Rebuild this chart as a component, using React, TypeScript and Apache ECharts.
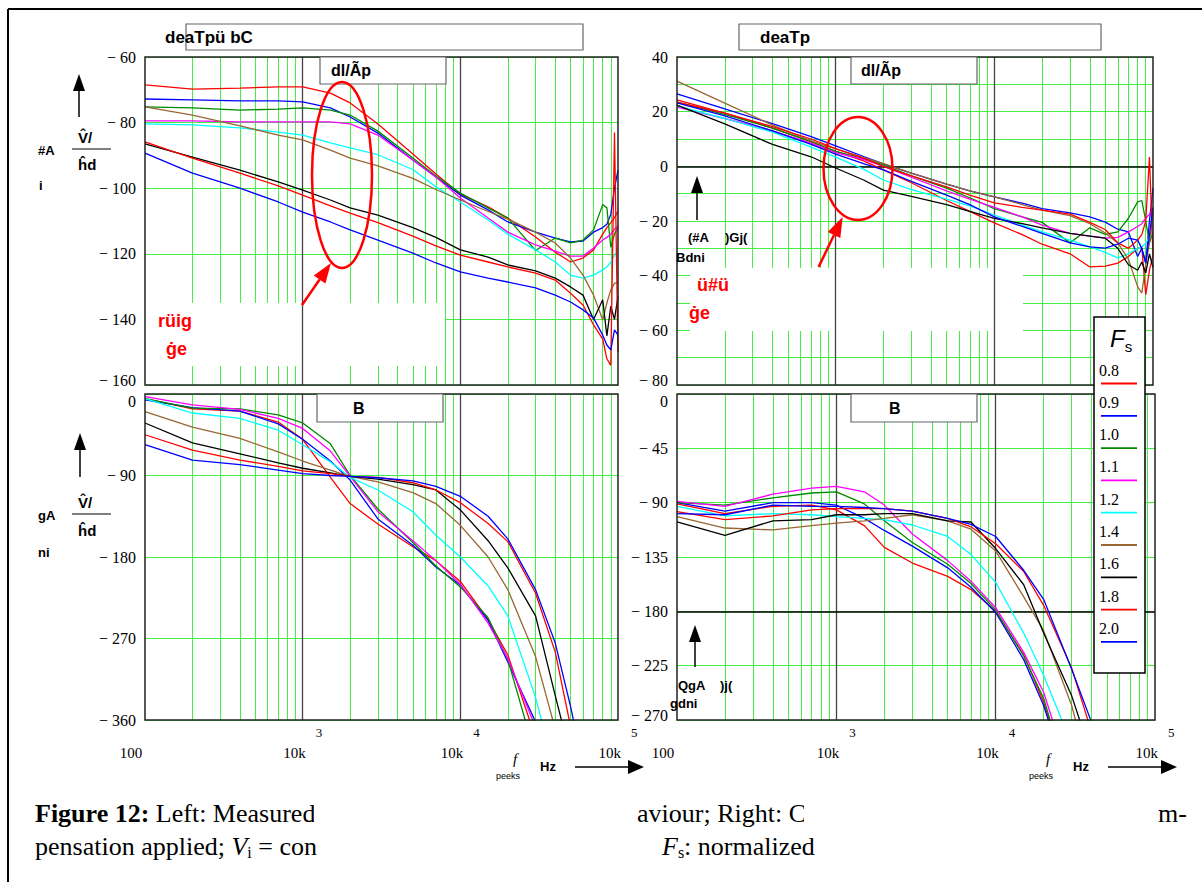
import { useEffect, useRef } from "react";
import * as echarts from "echarts";

// ---------- data ----------
const FREQ = [100, 200, 400, 700, 1000, 1500, 2000, 3000, 5000, 7000, 10000, 15000, 20000, 30000, 40000, 50000, 60000, 70000, 80000, 85000, 90000, 95000, 100000];
const MINOR_FREQ = [200, 300, 400, 500, 600, 700, 800, 900, 2000, 3000, 4000, 5000, 6000, 7000, 8000, 9000, 20000, 30000, 40000, 50000, 60000, 70000, 80000, 90000];
const DECADE_FREQ = [1000, 10000];
const X_TICK_BASE = ["100", "10k", "10k", "10k"];
const X_TICK_EXP = ["", "3", "4", "5"];
const Y_TICKS_TL = [-160, -140, -120, -100, -80, -60];
const Y_TICKS_TR = [-80, -60, -40, -20, 0, 20, 40];
const Y_GRID_STEP_TR = 10;
const Y_TICKS_BL = [-360, -270, -180, -90, 0];
const Y_TICKS_BR = [-270, -225, -180, -135, -90, -45, 0];
const FS_LABELS = ["0.8", "0.9", "1.0", "1.1", "1.2", "1.4", "1.6", "1.8", "2.0"];
const COLORS = ["#ff0000", "#0000ff", "#008a00", "#ff00ff", "#00ffff", "#996633", "#000000", "#ff0000", "#0000ff"];

// top-left: magnitude without compensation (dB)
const gL08 = [-68.5, -69.8, -69.5, -69.1, -69.1, -71.0, -74.0, -80.4, -89.6, -95.7, -101.8, -105.7, -109.1, -114.9, -119.5, -122.5, -121.3, -118.8, -114, -112, -110.5, -109, -107];
const gL09 = [-72.8, -73.1, -73.4, -73.4, -73.7, -75.5, -78.3, -83.2, -91.4, -96.6, -102.1, -106.6, -110.3, -113.4, -115.2, -116.4, -116.1, -113.4, -112, -111, -108, -100, -94.5];
const gL10 = [-75.2, -75.5, -76.2, -75.9, -75.5, -76.2, -77.7, -82.6, -90.8, -96.3, -101.5, -106, -109.1, -119, -115.2, -116.7, -115.8, -112.7, -105, -106, -118, -114, -112];
const gL11 = [-79.5, -79.5, -79.8, -79.8, -79.8, -79.8, -80.4, -83.8, -91.4, -96.6, -103, -109.1, -113.4, -117.3, -119.2, -120.7, -120.7, -118.2, -115.8, -115, -114, -112.5, -111.5];
const gL12 = [-80.4, -80.7, -81.6, -82.9, -83.8, -86.2, -87.7, -89.8, -94.3, -99.6, -104.2, -109.7, -114, -118.8, -122.5, -126.5, -127.4, -126.5, -124.9, -124, -122.5, -120.5, -118.8];
const gL14 = [-75.2, -77.7, -81, -83.8, -85.3, -88.4, -90.8, -93.2, -97, -100.4, -103.6, -107.1, -109.4, -113.4, -116.7, -121.3, -126.5, -132.6, -140.2, -135, -131, -129, -128.6];
const gL16 = [-86.5, -90.5, -94.5, -98.1, -100.6, -103.6, -106, -108.2, -112, -115, -118.8, -121, -123.4, -125.2, -127.4, -130.1, -132.6, -140, -134, -145, -136, -140, -133];
const gL18 = [-85.9, -90.8, -95.4, -99.3, -102.1, -105.4, -107.6, -110.5, -114.6, -117.6, -120.4, -122.5, -124, -125.9, -128, -132, -135.6, -141.7, -146, -152, -154, -83, -150];
const gL20 = [-89.3, -95.4, -100, -104.2, -107.3, -110.3, -112.7, -115.8, -119.8, -122.8, -125.5, -127.4, -128.6, -130.4, -132.6, -134.7, -137.1, -139.6, -144.8, -147.8, -149.3, -143.2, -144.8];

// top-right: magnitude with compensation (dB)
const gR08 = [24.3, 19.5, 14, 9, 5.5, 2, -1.3, -6, -12.5, -16.5, -20.7, -25, -28.5, -32, -36.8, -36.5, -35.4, -33, -30, -29.5, -47, -38, -32.6];
const gR09 = [26.5, 21, 15.6, 10.9, 7.5, 3.6, 0.9, -2.5, -6.5, -9, -11.2, -13.5, -15.5, -17, -18.5, -20.4, -23, -24, -33, -30, -35.4, -20, -8];
const gR10 = [23.5, 19, 14, 9, 5.5, 2.8, 0.5, -3.5, -8, -11.5, -15.5, -18.5, -20.5, -28, -22.5, -24.9, -24, -19, -13, -12.5, -20, -28, -24];
const gR11 = [21.7, 17.5, 13, 8.5, 5, 2.5, 0, -4, -9, -12, -15, -18.5, -21.5, -24.5, -25.5, -26.3, -26, -24, -22, -21, -19, -17.5, -16];
const gR12 = [22.1, 17.5, 12.5, 7, 3.4, -1, -5, -8.5, -12, -14.5, -17.8, -21.5, -24, -27, -29.5, -31.5, -33.5, -32, -30, -29.5, -28, -26, -24.4];
const gR14 = [31.2, 23.1, 15.1, 9.3, 6.4, 3.2, 1, -2.5, -6.5, -9, -11.2, -14, -16, -18, -21, -24.4, -28, -34, -44, -46.4, -36, -28, -17];
const gR16 = [22.4, 15.5, 8, 3.5, -0.6, -5, -8.7, -11, -14, -16.5, -19, -21, -22.5, -24.5, -25.5, -26.3, -30, -36, -38, -35, -39, -32, -37];
const gR18 = [23.5, 19.5, 14.5, 10, 6.5, 3, 0, -3.5, -7.5, -10.5, -13.4, -15, -16, -17.5, -20.5, -23.1, -28, -30, -27, -25, -20, 3.4, -32.6];
const gR20 = [23.2, 18.5, 13, 8, 4.5, 1, -1.3, -5.5, -10.5, -14, -18.5, -22, -24.5, -28, -29.5, -29.9, -28.5, -26.3, -27, -30, -35.4, -25, -15];

// bottom-left: phase without compensation (deg)
const pL08 = [-5, -16.5, -19, -31, -50, -92, -121, -143.5, -168.7, -184, -207, -249, -288, -380];
const pL09 = [-6.6, -15, -19, -33, -50, -74, -95, -138, -167, -191, -211, -250, -296, -362, -440];
const pL10 = [-5, -15.5, -16.5, -23, -32, -55, -90, -127, -164, -190, -213, -247, -293, -400];
const pL11 = [-3, -12, -17, -27, -38, -63, -91, -130, -162, -184, -210, -253, -292, -368];
const pL12 = [-5, -21, -27, -40, -56, -75, -92, -106, -130, -156, -180, -212, -245, -335, -420];
const pL14 = [-19.5, -36.5, -49, -64, -74, -84, -91, -97, -109, -121, -145, -180, -216, -290, -370];
const pL16 = [-32, -54, -66, -76, -82, -87, -91, -94, -100, -106, -128, -162, -192, -245, -333, -400];
const pL18 = [-45, -62, -73, -80, -85, -88, -91, -92, -98, -106, -120, -143, -163, -220, -285, -367];
const pL20 = [-56, -73, -78, -84, -88, -90, -91, -92.5, -96, -102, -113, -135, -160, -216, -275, -345, -410];

// bottom-right: phase with compensation (deg)
const pR08 = [-91, -99, -93, -92, -96, -109, -127, -140, -151, -162, -180, -216, -255, -330];
const pR09 = [-90, -97, -90, -90, -92, -103, -113, -126, -144, -160, -181, -220, -258, -330];
const pR10 = [-90, -92, -86, -82, -81, -91, -105, -123, -141, -157, -179, -217, -252, -330];
const pR11 = [-89, -93, -83, -78, -76.5, -81, -92, -116, -138, -155, -177, -214, -247, -320];
const pR12 = [-93, -101, -99, -100, -101.5, -103, -104, -108.5, -118, -133, -156, -198, -233, -290, -340];
const pR14 = [-101.6, -111, -112.6, -109, -107, -105, -103, -100, -105, -112, -130, -168, -196, -258, -320];
const pR16 = [-106, -117, -105, -104, -100, -100, -99, -99, -105, -106, -128, -158, -198, -250, -300];
const pR18 = [-97.5, -104, -101, -96, -95, -95, -95, -97, -103, -110, -124, -147, -175, -227, -280, -330];
const pR20 = [-99, -100, -92, -93, -93, -94, -95, -97, -103, -108, -118, -146, -170, -228, -272, -330];

const GAIN_NO_COMP = [gL08, gL09, gL10, gL11, gL12, gL14, gL16, gL18, gL20];
const GAIN_COMP = [gR08, gR09, gR10, gR11, gR12, gR14, gR16, gR18, gR20];
const PHASE_NO_COMP = [pL08, pL09, pL10, pL11, pL12, pL14, pL16, pL18, pL20];
const PHASE_COMP = [pR08, pR09, pR10, pR11, pR12, pR14, pR16, pR18, pR20];

// ---------- layout / style ----------
const SERIF = "'Liberation Serif', 'Times New Roman', serif";
const SANS = "'Liberation Sans', Arial, sans-serif";
const GREEN = "#44ee44";
const GRIDS = [
  { left: 145, top: 57, width: 473, height: 328 },
  { left: 677, top: 57, width: 476, height: 328 },
  { left: 145, top: 394, width: 473, height: 326 },
  { left: 677, top: 394, width: 478, height: 326 },
];

type Run = { text: string; size: number; family?: string; weight?: string; style?: string; dy?: number; color?: string };
function textRuns(x: number, y: number, parts: Run[], z = 12) {
  const ctx = document.createElement("canvas").getContext("2d") as CanvasRenderingContext2D;
  let cx = x;
  const out: any[] = [];
  for (const p of parts) {
    const fam = p.family || SERIF;
    ctx.font = `${p.style || "normal"} ${p.weight || "normal"} ${p.size}px ${fam}`;
    out.push({
      type: "text", x: cx, y: y + (p.dy || 0), z, silent: true,
      style: { text: p.text, fontSize: p.size, fontFamily: fam, fontWeight: p.weight || "normal", fontStyle: p.style || "normal", fill: p.color || "#000", align: "left", verticalAlign: "middle" },
    });
    cx += ctx.measureText(p.text).width;
  }
  return out;
}
function txt(x: number, y: number, text: string, size: number, opts: any = {}, z = 12) {
  return {
    type: "text", x, y, z, silent: true,
    style: { text, fontSize: size, fontFamily: opts.family || SANS, fontWeight: opts.weight || "normal", fontStyle: opts.style || "normal", fill: opts.color || "#000", align: opts.align || "left", verticalAlign: "middle" },
  };
}
function box(x: number, y: number, w: number, h: number, stroke: string | null, z = 7, lw = 1.2) {
  return { type: "rect", z, silent: true, shape: { x, y, width: w, height: h }, style: { fill: stroke === "none" ? "none" : "#fff", stroke: stroke && stroke !== "none" ? stroke : stroke === "none" ? "#222" : null, lineWidth: lw } };
}
function line(x1: number, y1: number, x2: number, y2: number, color = "#000", w = 1.5, z = 12) {
  return { type: "line", z, silent: true, shape: { x1, y1, x2, y2 }, style: { stroke: color, lineWidth: w } };
}
function poly(points: number[][], color = "#000", z = 12) {
  return { type: "polygon", z, silent: true, shape: { points }, style: { fill: color } };
}

function buildGraphics() {
  const g: any[] = [];
  // outer frame
  g.push(line(8, 9, 1202, 9, "#000", 2, 15));
  g.push(line(8, 9, 8, 882, "#000", 2, 15));
  // plot borders
  GRIDS.forEach((gr) => g.push(box(gr.left, gr.top, gr.width, gr.height, "none", 6, 1.5)));
  // white masks over the grid
  g.push({ type: "rect", z: 2, silent: true, shape: { x: 146, y: 303, width: 299, height: 63 }, style: { fill: "#fff" } });
  g.push({ type: "rect", z: 2, silent: true, shape: { x: 690, y: 268, width: 333, height: 63 }, style: { fill: "#fff" } });
  // title boxes
  g.push(box(186, 24, 397, 26, "#666", 7));
  g.push(txt(165, 37, "deaTpü bC", 17, { weight: "bold" }, 8));
  g.push(box(739, 24, 362, 26, "#666", 7));
  g.push(txt(760, 37, "deaTp", 17, { weight: "bold" }, 8));
  g.push(box(320, 57, 126, 27, "#666", 7));
  g.push(txt(331, 70, "dl/Ãp", 16, { weight: "bold" }, 8));
  g.push(box(851, 57, 126, 27, "#666", 7));
  g.push(txt(861, 70, "dl/Ãp", 16, { weight: "bold" }, 8));
  g.push(box(317, 394, 126, 28, "#666", 7));
  g.push(txt(353, 408, "B", 16, { weight: "bold" }, 8));
  g.push(box(851, 394, 126, 28, "#666", 7));
  g.push(txt(889, 408, "B", 16, { weight: "bold" }, 8));
  // red annotations
  g.push({ type: "ellipse", z: 9, silent: true, shape: { cx: 342, cy: 175, rx: 30, ry: 93 }, style: { fill: "none", stroke: "#ff0000", lineWidth: 2.5 } });
  g.push({ type: "ellipse", z: 9, silent: true, shape: { cx: 858, cy: 168.5, rx: 34.5, ry: 51.5 }, style: { fill: "none", stroke: "#ff0000", lineWidth: 2.5 } });
  g.push(line(302, 305, 319.6, 279.5, "#ff0000", 2.5, 9));
  g.push(poly([[331, 263], [325.4, 283.5], [313.8, 275.5]], "#ff0000", 9));
  g.push(line(818.6, 267, 834, 235, "#ff0000", 2.5, 9));
  g.push(poly([[842.7, 217], [840.3, 238], [827.7, 232]], "#ff0000", 9));
  g.push(txt(158, 321, "rüig", 18, { weight: "bold", color: "#ff0000" }, 9));
  g.push(txt(166, 349, "ġe", 18, { weight: "bold", color: "#ff0000" }, 9));
  g.push(txt(697, 285, "ü#ü", 18, { weight: "bold", color: "#ff0000" }, 9));
  g.push(txt(689, 313, "ġe", 18, { weight: "bold", color: "#ff0000" }, 9));
  // y-axis quantity labels (left)
  g.push(line(79, 117, 79, 88));
  g.push(poly([[73, 91], [85, 91], [79, 74]]));
  g.push(txt(38, 150, "#A", 13, { weight: "bold" }));
  g.push(txt(78, 137, "V̂/", 15, { weight: "bold" }));
  g.push(line(72, 149, 111, 149, "#000", 1.2));
  g.push(txt(78, 164, "ĥd", 15, { weight: "bold" }));
  g.push(txt(39, 185, "i", 13, { weight: "bold" }));
  g.push(line(80, 477, 80, 448));
  g.push(poly([[74, 450], [86, 450], [80, 433]]));
  g.push(txt(38, 515, "gA", 13, { weight: "bold" }));
  g.push(txt(78, 502, "V̂/", 15, { weight: "bold" }));
  g.push(line(72, 514, 111, 514, "#000", 1.2));
  g.push(txt(78, 530, "ĥd", 15, { weight: "bold" }));
  g.push(txt(38, 552, "ni", 13, { weight: "bold" }));
  // y-axis quantity labels (right)
  g.push(line(697, 220, 697, 191));
  g.push(poly([[691, 193], [703, 193], [697, 176]]));
  g.push(txt(688, 237, "(#A", 13, { weight: "bold" }));
  g.push(txt(725, 237, ")Gj(", 13, { weight: "bold" }));
  g.push(txt(676, 257, "Bdni", 13, { weight: "bold" }));
  g.push(line(695, 667, 695, 640));
  g.push(poly([[689, 642], [701, 642], [695, 625]]));
  g.push(txt(678, 685, "QgA", 13, { weight: "bold" }));
  g.push(txt(720, 685, ")j(", 13, { weight: "bold" }));
  g.push(txt(670, 703, "gdni", 13, { weight: "bold" }));
  // x-axis quantity labels
  [0, 533].forEach((dx) => {
    g.push(txt(496 + dx, 776, "peeks", 9));
    g.push(txt(513 + dx, 759, "f", 15, { family: SERIF, style: "italic" }));
    g.push(txt(540 + dx, 766, "Hz", 13, { weight: "bold" }));
    g.push(line(575 + dx, 767, 630 + dx, 767, "#000", 1.5));
    g.push(poly([[628 + dx, 760], [628 + dx, 774], [644 + dx, 767]]));
  });
  // legend
  g.push({ type: "rect", z: 14, silent: true, shape: { x: 1094, y: 317, width: 51, height: 356 }, style: { fill: "#fff", stroke: "#000", lineWidth: 1.5 } });
  textRuns(1110, 338, [{ text: "F", size: 24, family: SANS, style: "italic" }, { text: "s", size: 15, family: SANS, dy: 8 }], 15).forEach((e) => g.push(e));
  FS_LABELS.forEach((lab, i) => {
    const ty = 370 + 32.3 * i;
    g.push(txt(1099, ty, lab, 16, { family: SERIF }, 15));
    g.push(line(1101, ty + 13.5, 1137, ty + 13.5, COLORS[i], 1.8, 15));
  });
  // caption
  textRuns(35, 813, [{ text: "Figure 12:", size: 26, weight: "bold" }, { text: " Left: Measured", size: 26 }], 12).forEach((e) => g.push(e));
  g.push({ type: "rect", z: 13, silent: true, shape: { x: 314, y: 796, width: 322, height: 34 }, style: { fill: "#fff" } });
  textRuns(637, 813, [{ text: "aviour; Right: C", size: 26 }], 12).forEach((e) => g.push(e));
  g.push({ type: "rect", z: 13, silent: true, shape: { x: 804, y: 796, width: 350, height: 34 }, style: { fill: "#fff" } });
  g.push(txt(1158, 813, "m-", 26, { family: SERIF }, 12));
  textRuns(35, 846, [
    { text: "pensation applied; ", size: 26 },
    { text: "V", size: 26, style: "italic" },
    { text: "i", size: 16, dy: 6 },
    { text: " = con", size: 26 },
  ], 12).forEach((e) => g.push(e));
  textRuns(662, 846, [
    { text: "F", size: 26, style: "italic" },
    { text: "s", size: 16, dy: 6 },
    { text: ": normalized", size: 26 },
  ], 12).forEach((e) => g.push(e));
  return g;
}

function curveSeries(gi: number, sets: number[][]) {
  return sets.map((vals, k) => ({
    type: "line",
    name: FS_LABELS[k],
    xAxisIndex: gi,
    yAxisIndex: gi,
    data: vals.map((v, i) => [FREQ[i], v]),
    showSymbol: false,
    symbol: "none",
    clip: true,
    z: 4,
    silent: true,
    lineStyle: { color: COLORS[k], width: 1.3 },
    itemStyle: { color: COLORS[k] },
  }));
}
function gridSeries(gi: number, blackY: number | null) {
  const base = { type: "line", xAxisIndex: gi, yAxisIndex: gi, data: [], silent: true, showSymbol: false };
  const dark: any[] = DECADE_FREQ.map((f) => ({ xAxis: f }));
  if (blackY !== null) dark.push({ yAxis: blackY, lineStyle: { color: "#000", width: 1.5 } });
  return [
    { ...base, z: 1, markLine: { z: 1, silent: true, animation: false, symbol: ["none", "none"], label: { show: false }, lineStyle: { color: GREEN, width: 1, type: "solid" }, emphasis: { disabled: true }, data: MINOR_FREQ.map((f) => ({ xAxis: f })) } },
    { ...base, z: 3, markLine: { z: 3, silent: true, animation: false, symbol: ["none", "none"], label: { show: false }, lineStyle: { color: "#444", width: 1.3, type: "solid" }, emphasis: { disabled: true }, data: dark } },
  ];
}
function yLabel(v: number) {
  if (v === 0) return "0";
  return v < 0 ? "− " + Math.abs(v) : String(v);
}
// lowest label may be nudged up and highest nudged down, so stacked panels' labels do not collide
function yAxis(gi: number, ticks: number[], step: number, showEvery: number, nudgeLo: boolean, nudgeHi: boolean) {
  const lo = ticks[0];
  const hi = ticks[ticks.length - 1];
  return {
    type: "value",
    gridIndex: gi,
    min: lo,
    max: hi,
    interval: step,
    axisLine: { show: false },
    axisTick: { show: false },
    splitLine: { show: true, lineStyle: { color: GREEN, width: 1 } },
    axisLabel: {
      margin: 9,
      fontFamily: SERIF,
      fontSize: 16,
      color: "#000",
      formatter: (v: number) => {
        if (!(ticks.includes(v) && (v - lo) % showEvery === 0)) return "";
        if (nudgeLo && v === lo) return `{u|${yLabel(v)}}`;
        if (nudgeHi && v === hi) return `{d|${yLabel(v)}}`;
        return yLabel(v);
      },
      rich: {
        u: { fontFamily: SERIF, fontSize: 16, color: "#000", padding: [0, 0, 10, 0] },
        d: { fontFamily: SERIF, fontSize: 16, color: "#000", padding: [14, 0, 0, 0] },
      },
    },
  };
}
function xAxis(gi: number, showLabels: boolean) {
  return {
    type: "log",
    logBase: 10,
    gridIndex: gi,
    min: 100,
    max: 100000,
    axisLine: { show: false },
    axisTick: { show: false },
    splitLine: { show: false },
    minorTick: { show: false },
    minorSplitLine: { show: false },
    axisLabel: showLabels
      ? {
          show: true,
          margin: 6,
          color: "#000",
          fontFamily: SERIF,
          formatter: (v: number) => {
            const i = Math.round(Math.log10(v)) - 2;
            if (i < 0 || i >= X_TICK_BASE.length) return "";
            return i === 0 ? `{z|${X_TICK_BASE[0]}}` : `{b|${X_TICK_BASE[i]}}{s|${X_TICK_EXP[i]}}`;
          },
          rich: {
            z: { fontFamily: SERIF, fontSize: 15, lineHeight: 34, verticalAlign: "bottom", padding: [0, 28, 0, 0], color: "#000" },
            b: { fontFamily: SERIF, fontSize: 15, lineHeight: 34, verticalAlign: "bottom", color: "#000" },
            s: { fontFamily: SERIF, fontSize: 13, lineHeight: 14, verticalAlign: "top", padding: [0, 0, 0, 10], color: "#000" },
          },
        }
      : { show: false },
  };
}

export default function App() {
  const ref = useRef<HTMLDivElement>(null);
  useEffect(() => {
    if (!ref.current) return;
    const chart = echarts.init(ref.current, undefined, { renderer: "svg" });
    const option: any = {
      animation: false,
      backgroundColor: "#ffffff",
      grid: GRIDS.map((g) => ({ ...g, show: false, containLabel: false, outerBoundsMode: "none" })),
      xAxis: [xAxis(0, false), xAxis(1, false), xAxis(2, true), xAxis(3, true)],
      yAxis: [
        yAxis(0, Y_TICKS_TL, Y_TICKS_TL[1] - Y_TICKS_TL[0], 20, true, false),
        yAxis(1, Y_TICKS_TR, Y_GRID_STEP_TR, 20, true, false),
        yAxis(2, Y_TICKS_BL, Y_TICKS_BL[1] - Y_TICKS_BL[0], 90, false, true),
        yAxis(3, Y_TICKS_BR, Y_TICKS_BR[1] - Y_TICKS_BR[0], 45, true, true),
      ],
      series: [
        ...gridSeries(0, null),
        ...gridSeries(1, 0),
        ...gridSeries(2, null),
        ...gridSeries(3, -180),
        ...curveSeries(0, GAIN_NO_COMP),
        ...curveSeries(1, GAIN_COMP),
        ...curveSeries(2, PHASE_NO_COMP),
        ...curveSeries(3, PHASE_COMP),
      ],
      graphic: { elements: buildGraphics() },
    };
    chart.setOption(option);
    return () => chart.dispose();
  }, []);
  return <div ref={ref} style={{ position: "absolute", left: 0, top: 0, width: 1202, height: 882, background: "#fff" }} />;
}
